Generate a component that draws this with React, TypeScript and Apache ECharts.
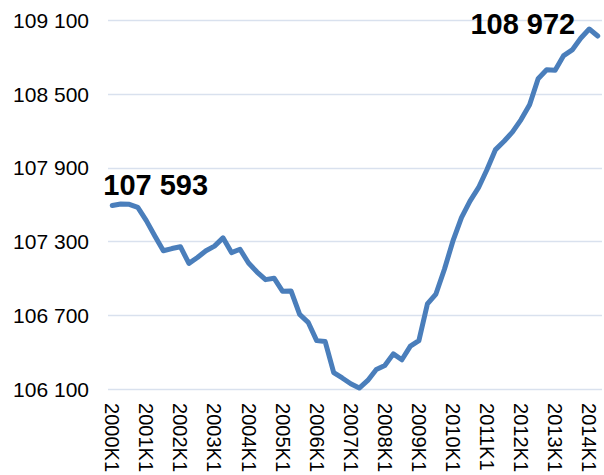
import React, { useEffect, useRef } from "react";
import * as echarts from "echarts";

const years = [
  "2000", "2001", "2002", "2003", "2004", "2005", "2006", "2007",
  "2008", "2009", "2010", "2011", "2012", "2013", "2014",
];
const quarters = ["K1", "K2", "K3", "K4"];
const lastQuarterCount = 2; // series ends at 2014K2

const categories: string[] = [];
years.forEach((y, i) => {
  const n = i === years.length - 1 ? lastQuarterCount : quarters.length;
  for (let q = 0; q < n; q++) categories.push(y + quarters[q]);
});

const values = [
  107593, 107605, 107603, 107578, 107470, 107345, 107225, 107243, 107258, 107122,
  107170, 107225, 107263, 107330, 107210, 107237, 107125, 107052, 106990, 107002,
  106895, 106897, 106707, 106643, 106494, 106486, 106234, 106190, 106143, 106108,
  106170, 106259, 106291, 106386, 106338, 106449, 106494, 106792, 106873, 107075,
  107305, 107495, 107629, 107738, 107886, 108048, 108116, 108192, 108292, 108413,
  108624, 108697, 108694, 108813, 108859, 108954, 109029, 108972,
];

const yMin = 106100;
const yMax = 109100;
const yStep = 600;

const fmt = (v: number) => {
  const s = String(Math.round(v));
  return s.replace(/\B(?=(\d{3})+(?!\d))/g, " ");
};

const FONT = "'Liberation Sans', Arial, sans-serif";

export default function App() {
  const ref = useRef<HTMLDivElement>(null);
  useEffect(() => {
    if (!ref.current) return;
    const chart = echarts.init(ref.current, undefined, { renderer: "svg" });
    const last = values.length - 1;
    const labelBase = {
      show: true,
      color: "#000000",
      fontSize: 29,
      fontWeight: "bold",
      fontFamily: FONT,
      formatter: (p: any) => fmt(p.value),
    };
    const data = values.map((v, i) => {
      if (i === 0) {
        return {
          value: v,
          label: { ...labelBase, position: "top", align: "left", distance: 6, offset: [-9, 0] },
        };
      }
      if (i === last) {
        return {
          value: v,
          label: { ...labelBase, position: "left", distance: 22, offset: [0, -12] },
        };
      }
      return v;
    });
    chart.setOption({
      animation: false,
      backgroundColor: "#ffffff",
      grid: { left: 108, right: 2, top: 20.3, bottom: 84.7, containLabel: false },
      xAxis: {
        type: "category",
        data: categories,
        boundaryGap: true,
        axisLine: { show: false },
        axisTick: { show: false },
        axisLabel: {
          interval: 3,
          rotate: -90,
          margin: 14,
          color: "#000000",
          fontSize: 20,
          fontFamily: FONT,
        },
      },
      yAxis: {
        type: "value",
        min: yMin,
        max: yMax,
        interval: yStep,
        axisLine: { show: false },
        axisTick: { show: false },
        splitLine: { lineStyle: { color: "#D9E1EE", width: 1.3 } },
        axisLabel: {
          margin: 19,
          color: "#000000",
          fontSize: 21,
          fontFamily: FONT,
          formatter: (v: number) => fmt(v),
        },
      },
      series: [
        {
          type: "line",
          data,
          showSymbol: true,
          showAllSymbol: true,
          symbol: "circle",
          symbolSize: 1,
          itemStyle: { color: "rgba(0,0,0,0)", borderWidth: 0 },
          lineStyle: { color: "#4A7EBB", width: 5, cap: "round", join: "round" },
          label: { show: false },
          emphasis: { disabled: true },
        },
      ],
    });
    return () => chart.dispose();
  }, []);
  return (
    <div
      ref={ref}
      style={{ position: "fixed", left: 0, top: 0, width: 604, height: 475, background: "#fff" }}
    />
  );
}
